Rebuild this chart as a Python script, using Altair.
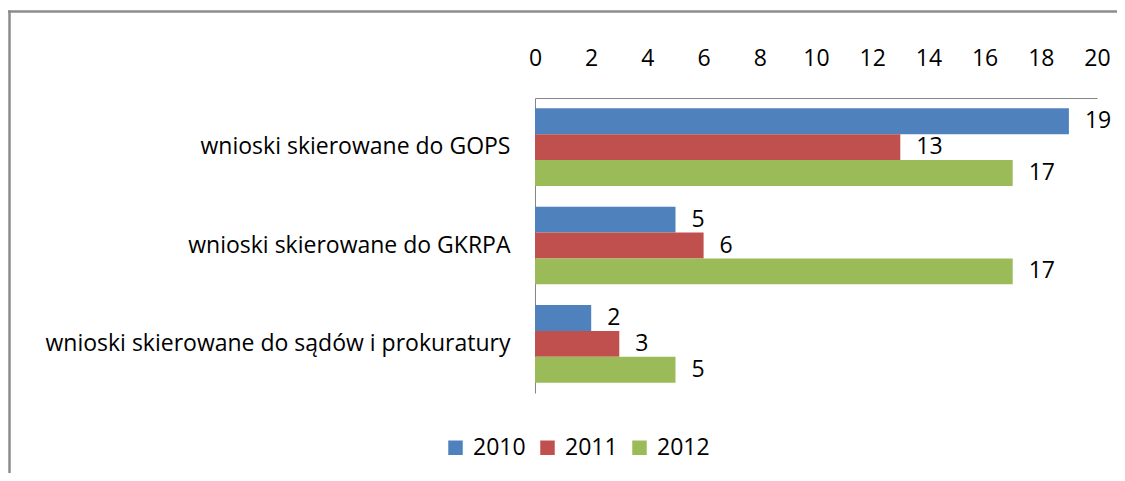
import altair as alt
import pandas as pd

categories = ["wnioski skierowane do GOPS", "wnioski skierowane do GKRPA", "wnioski skierowane do sądów i prokuratury"]
years = ["2010", "2011", "2012"]
values_2010 = [19, 5, 2]
values_2011 = [13, 6, 3]
values_2012 = [17, 17, 5]
colors = ["#4F81BD", "#C0504D", "#9BBB59"]
x_ticks = [0, 2, 4, 6, 8, 10, 12, 14, 16, 18, 20]

rows = []
for yr, vals in zip(years, [values_2010, values_2011, values_2012]):
    for c, v in zip(categories, vals):
        rows.append({"kategoria": c, "rok": yr, "wartosc": v})
df = pd.DataFrame(rows)

FONT = "Open Sans"
FS = 23
W, H = 562, 295

y_enc = alt.Y("kategoria:N", sort=categories,
              scale=alt.Scale(paddingInner=0.21, paddingOuter=0.105),
              axis=alt.Axis(title=None, ticks=False, labelPadding=25, labelFontSize=FS,
                            labelFont=FONT, labelColor="black", domainColor="#868686",
                            labelLimit=600))
x_enc = alt.X("wartosc:Q", scale=alt.Scale(domain=[0, 20], nice=False),
              axis=alt.Axis(orient="top", values=x_ticks, title=None, ticks=False, grid=False,
                            labelPadding=28, labelFontSize=FS, labelFont=FONT,
                            labelFlush=False, labelOverlap=False,
                            labelColor="black", domainColor="#868686"))

base = alt.Chart(df).encode(
    y=y_enc,
    yOffset=alt.YOffset("rok:N", sort=years),
)

bars = base.mark_bar().encode(
    x=x_enc,
    color=alt.Color("rok:N", sort=years, scale=alt.Scale(domain=years, range=colors),
                    legend=alt.Legend(title=None, orient="none", direction="horizontal",
                                      legendX=-91, legendY=338, symbolType="square",
                                      symbolSize=210, symbolStrokeWidth=0,
                                      labelFontSize=FS, labelFont=FONT, labelColor="black",
                                      columnPadding=10, labelOffset=6)),
)

labels = base.mark_text(align="left", baseline="middle", dx=16, fontSize=FS, font=FONT,
                        color="black").encode(
    x=alt.X("wartosc:Q"),
    text=alt.Text("wartosc:Q"),
)

frame_df = pd.DataFrame({"a": [0]})
top_line = alt.Chart(frame_df).mark_rule(stroke="#8c8c8c", strokeWidth=2.5, clip=False).encode(
    x=alt.value(-527), x2=alt.value(640), y=alt.value(-86.5)
)
left_line = alt.Chart(frame_df).mark_rule(stroke="#8c8c8c", strokeWidth=2.5, clip=False).encode(
    x=alt.value(-525.5), y=alt.value(-87.5), y2=alt.value(420)
)

chart = alt.layer(bars, labels, top_line, left_line).properties(
    width=W, height=H,
    autosize=alt.AutoSizeParams(type="none"),
    padding={"left": 527, "top": 90, "right": 20, "bottom": 80},
).configure(background="white").configure_view(stroke=None)

chart.save("out.html", embed_options={"renderer": "svg", "actions": False})
